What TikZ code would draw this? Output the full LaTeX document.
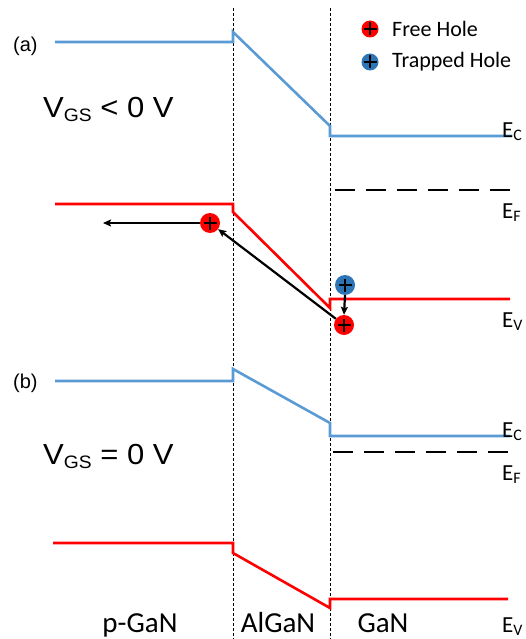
\documentclass[tikz,border=0pt]{standalone}
\usepackage{fontspec}
\usepackage{graphicx}
\setmainfont{Carlito}
\newfontfamily\arialfont{Liberation Sans}
\usetikzlibrary{arrows.meta}
\definecolor{bandblue}{RGB}{91,155,213}
\definecolor{bandred}{RGB}{255,0,0}
\definecolor{holeblue}{RGB}{46,117,182}
\newcommand{\Esub}[1]{E\raisebox{-3pt}{\fontsize{16}{16}\selectfont #1}}
\newcommand{\Vgs}{V\raisebox{-4pt}{\fontsize{18}{18}\selectfont GS}}
\begin{document}
\begin{tikzpicture}[x=1pt,y=-1pt,
  cband/.style={draw=bandblue,line width=2.6pt},
  vband/.style={draw=bandred,line width=2.6pt},
  fermi/.style={draw=black,line width=2.6pt,dash pattern=on 20pt off 11pt},
  iface/.style={draw=black,line width=0.6pt,dash pattern=on 3pt off 2pt},
  hole/.style={circle,inner sep=0pt,minimum size=20pt,
    path picture={\draw[black,line width=2.2pt]
      ([xshift=-6.5pt]path picture bounding box.center) -- ([xshift=6.5pt]path picture bounding box.center)
      ([yshift=-6.5pt]path picture bounding box.center) -- ([yshift=6.5pt]path picture bounding box.center);}},
  freehole/.style={hole,fill=bandred},
  traphole/.style={hole,fill=holeblue},
  arr/.style={draw=black,line width=2.2pt,-{Stealth[length=8pt,width=7pt,inset=1.5pt]}},
  lbl/.style={inner sep=0pt,font=\fontsize{22}{24}\selectfont},
  elbl/.style={inner sep=0pt,anchor=base west,font=\fontsize{23}{25}\selectfont},
  region/.style={inner sep=0pt,anchor=base,font=\fontsize{29}{32}\selectfont},
  big/.style={inner sep=0pt,anchor=base west,font=\arialfont\fontsize{29}{32}\selectfont},
  tag/.style={inner sep=0pt,font=\arialfont\fontsize{20}{22}\selectfont}]
\useasboundingbox (0,0) rectangle (526,639);
% interfaces
\draw[iface] (233,8) -- (233,639);
\draw[iface] (330,8) -- (330,639);
% (a) bands
\draw[cband] (55,42) -- (233,42) -- (233,32) -- (330,126) -- (330,136) -- (512,136);
\draw[vband] (55,204) -- (233,204) -- (233,212) -- (330,308) -- (330,299) -- (510,299);
\draw[fermi] (335,190) -- (516,190);
% (b) bands
\draw[cband] (55,381) -- (233,381) -- (233,369) -- (330,423) -- (330,436) -- (510,436);
\draw[vband] (53,543) -- (233,543) -- (233,553) -- (330,608) -- (330,599) -- (508,599);
\draw[fermi] (333,452) -- (514,452);
% labels
\node[tag,anchor=west] (ta) at (13,46) {(a)};
\node[tag,anchor=west] (tb) at (13,383) {(b)};
\node[big] (va) at (43,118) {\scalebox{1.07}[1]{\Vgs{} < 0 V}};
\node[big] (vb) at (43,464) {\scalebox{1.07}[1]{\Vgs{} = 0 V}};
\node[elbl] (eca) at (502,138) {\Esub{C}};
\node[elbl] (efa) at (502,218) {\Esub{F}};
\node[elbl] (eva) at (502,327) {\Esub{V}};
\node[elbl] (ecb) at (502,437) {\Esub{C}};
\node[elbl] (efb) at (502,480) {\Esub{F}};
\node[elbl] (evb) at (502,632) {\Esub{V}};
\node[region] (pgan) at (140,632) {p-GaN};
\node[region] (algan) at (278,632) {AlGaN};
\node[region] (gan) at (383,632) {GaN};
% legend
\node[freehole,minimum size=17pt] (lf) at (370,29) {};
\node[lbl,anchor=west] (lft) at (392,29) {Free Hole};
\node[traphole,minimum size=17pt] (lt) at (370,62) {};
\node[lbl,anchor=west] (ltt) at (392,62) {Trapped Hole};
% holes and arrows
\node[freehole] (h1) at (210,223) {};
\node[freehole] (h2) at (344,325) {};
\node[traphole] (h3) at (345,285) {};
\coordinate (tip) at (103,223);
\draw[arr] (h1.west) -- (tip);
\draw[arr] (h2) -- (h1);
\draw[arr] (h3.south) -- (h2.north);
\end{tikzpicture}
\end{document}
